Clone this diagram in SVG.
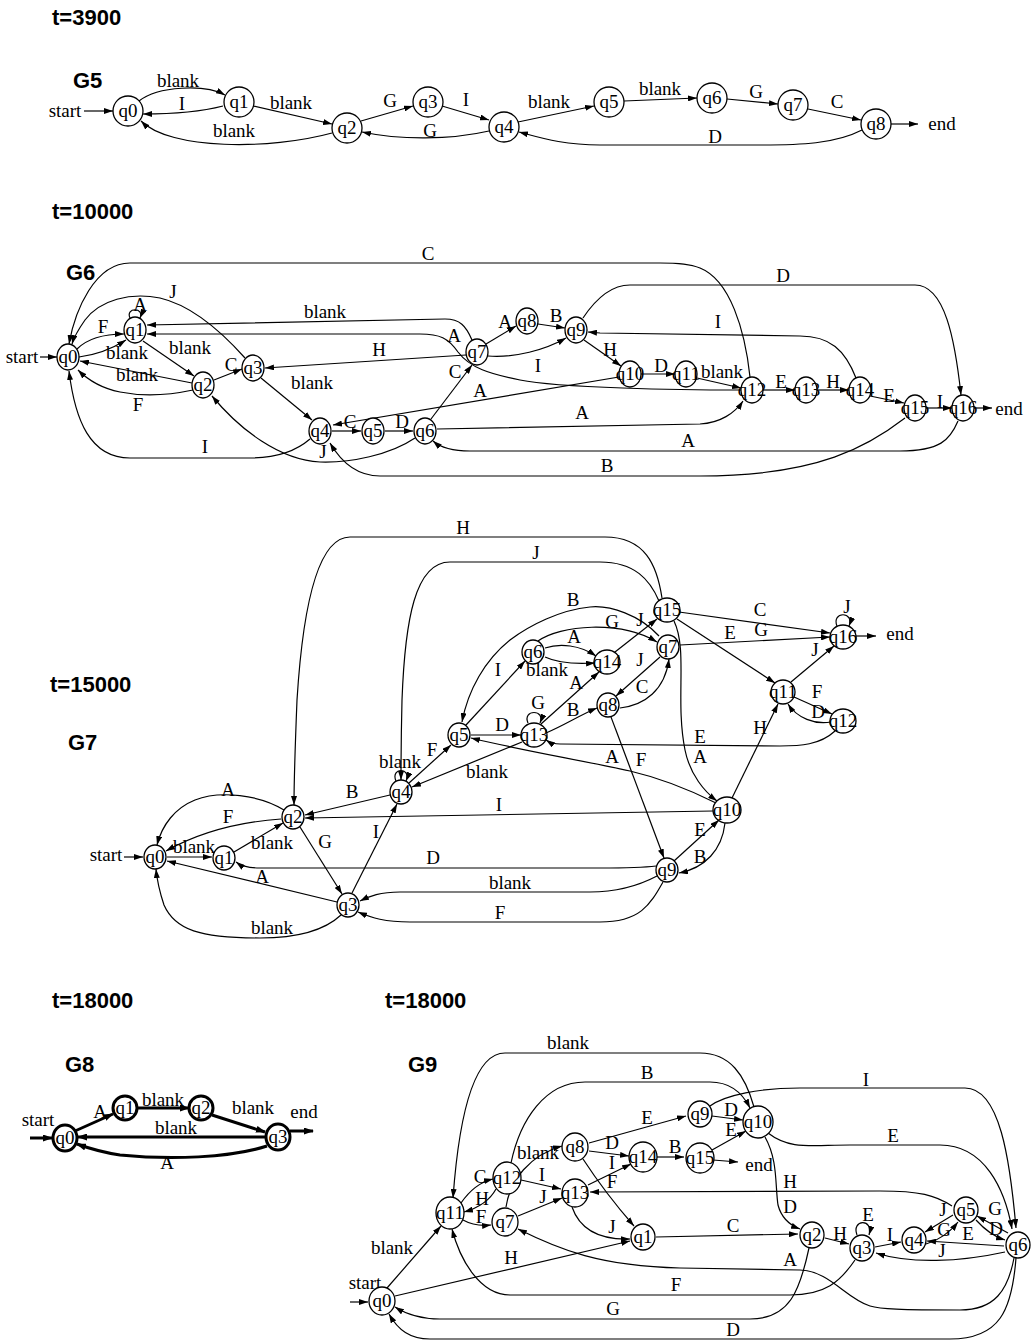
<svg xmlns="http://www.w3.org/2000/svg" width="1036" height="1341" viewBox="0 0 1036 1341">
<style>
.t{font-family:"Liberation Sans",Arial,sans-serif;font-weight:bold;font-size:22px}
.n{fill:#fff;stroke:#000;stroke-width:1.3}
.n3{fill:#fff;stroke:#000;stroke-width:3}
.nt{font-family:"Liberation Serif","Times New Roman",serif;font-size:19px;text-anchor:middle}
.l{font-family:"Liberation Serif","Times New Roman",serif;font-size:19px;text-anchor:middle}
.e{fill:none;stroke:#000;stroke-width:1.2;marker-end:url(#a)}
.e3{fill:none;stroke:#000;stroke-width:3;marker-end:url(#a3)}
</style>
<defs>
<marker id="a" markerWidth="9" markerHeight="6" refX="9" refY="3" orient="auto" markerUnits="userSpaceOnUse"><path d="M0,0L9,3L0,6z"/></marker>
<marker id="a3" markerWidth="10" markerHeight="7" refX="9" refY="3.5" orient="auto" markerUnits="userSpaceOnUse"><path d="M0,0L10,3.5L0,7z"/></marker>
</defs>
<rect width="1036" height="1341" fill="#fff"/>

<text class="t" x="52" y="25">t=3900</text>
<text class="t" x="73" y="88">G5</text>
<text class="t" x="52" y="219">t=10000</text>
<text class="t" x="66" y="280">G6</text>
<text class="t" x="50" y="692">t=15000</text>
<text class="t" x="68" y="750">G7</text>
<text class="t" x="52" y="1008">t=18000</text>
<text class="t" x="65" y="1072">G8</text>
<text class="t" x="385" y="1008">t=18000</text>
<text class="t" x="408" y="1072">G9</text>

<!-- ================= G5 connectors ================= -->
<g id="g5-edges">
<path class="e" d="M84,111L113,111"/>
<path class="e" d="M139,101C158,86 205,84 225,95"/>
<path class="e" d="M223,106C200,112 170,114 143,114"/>
<path class="e" d="M253,106L332,124"/>
<path class="e" d="M332,133C270,150 170,150 141,121"/>
<path class="e" d="M361,121L413,106"/>
<path class="e" d="M442,106L489,120"/>
<path class="e" d="M489,131C450,140 400,140 362,132"/>
<path class="e" d="M518,122L594,106"/>
<path class="e" d="M624,101L697,98"/>
<path class="e" d="M727,99L778,104"/>
<path class="e" d="M808,109L861,120"/>
<path class="e" d="M862,130C835,144 800,145 760,145L600,145C565,145 545,139 519,132"/>
<path class="e" d="M891,124L918,124"/>
<g>
<text class="l" x="65" y="117">start</text>
<text class="l" x="178" y="87">blank</text>
<text class="l" x="182" y="110">I</text>
<text class="l" x="291" y="109">blank</text>
<text class="l" x="234" y="137">blank</text>
<text class="l" x="390" y="107">G</text>
<text class="l" x="466" y="106">I</text>
<text class="l" x="430" y="137">G</text>
<text class="l" x="549" y="108">blank</text>
<text class="l" x="660" y="95">blank</text>
<text class="l" x="756" y="98">G</text>
<text class="l" x="837" y="108">C</text>
<text class="l" x="715" y="143">D</text>
<text class="l" x="942" y="130">end</text>
</g>
</g>
<g id="g5-q0"><circle class="n" cx="128" cy="111" r="15"/><text class="nt" x="128" y="117">q0</text></g>
<g id="g5-q1"><circle class="n" cx="239" cy="102" r="15"/><text class="nt" x="239" y="108">q1</text></g>
<g id="g5-q2"><circle class="n" cx="347" cy="128" r="15"/><text class="nt" x="347" y="134">q2</text></g>
<g id="g5-q3"><circle class="n" cx="428" cy="102" r="15"/><text class="nt" x="428" y="108">q3</text></g>
<g id="g5-q4"><circle class="n" cx="504" cy="127" r="15"/><text class="nt" x="504" y="133">q4</text></g>
<g id="g5-q5"><circle class="n" cx="609" cy="102" r="15"/><text class="nt" x="609" y="108">q5</text></g>
<g id="g5-q6"><circle class="n" cx="712" cy="98" r="15"/><text class="nt" x="712" y="104">q6</text></g>
<g id="g5-q7"><circle class="n" cx="793" cy="105" r="15"/><text class="nt" x="793" y="111">q7</text></g>
<g id="g5-q8"><circle class="n" cx="876" cy="124" r="15"/><text class="nt" x="876" y="130">q8</text></g>

<!-- ================= G6 connectors ================= -->
<g id="g6-edges">
<path class="e" d="M40,357L57,357"/>
<path class="e" d="M750,377C745,330 730,280 700,268C690,264 680,263 660,263L130,263C95,263 75,310 69,344"/>
<path class="e" d="M583,318C595,300 610,285 630,285L915,285C945,285 955,340 961,395"/>
<path class="e" d="M245,358C220,330 190,305 160,298C130,292 100,300 85,320C78,330 74,337 72,344"/>
<path class="e" d="M130,318C125,307 145,307 140,318"/>
<path class="e" d="M77,349C88,338 105,334 124,334"/>
<path class="e" d="M79,357C95,355 110,350 126,340"/>
<path class="e" d="M143,341L194,376"/>
<path class="e" d="M192,383L80,361"/>
<path class="e" d="M193,390C165,396 140,396 120,392C100,388 88,380 78,370"/>
<path class="e" d="M214,380L242,369"/>
<path class="e" d="M466,355L265,368"/>
<path class="e" d="M261,378L312,420"/>
<path class="e" d="M472,340C466,326 460,319 445,319L147,325"/>
<path class="e" d="M741,390C680,390 560,388 520,380C490,374 470,368 458,352C448,338 440,334 420,334L147,334"/>
<path class="e" d="M486,344L516,326"/>
<path class="e" d="M538,324L565,328"/>
<path class="e" d="M488,356C515,358 545,350 566,338"/>
<path class="e" d="M584,340L621,366"/>
<path class="e" d="M641,374L675,374"/>
<path class="e" d="M697,378L741,388"/>
<path class="e" d="M763,390L795,390"/>
<path class="e" d="M817,390L849,390"/>
<path class="e" d="M870,396L904,403"/>
<path class="e" d="M926,408L952,408"/>
<path class="e" d="M974,408L992,408"/>
<path class="e" d="M856,378C845,350 830,336 800,336L600,333L588,332"/>
<path class="e" d="M619,377L333,425"/>
<path class="e" d="M431,419L472,365"/>
<path class="e" d="M437,429L700,424C720,423 735,413 743,401"/>
<path class="e" d="M958,421C950,440 940,451 900,451L470,451C450,451 440,447 433,441"/>
<path class="e" d="M905,418C870,445 820,476 700,476L380,476C355,476 340,460 330,443"/>
<path class="e" d="M332,431L361,431"/>
<path class="e" d="M385,431L413,431"/>
<path class="e" d="M415,438C390,455 350,463 320,462C280,460 240,430 212,396"/>
<path class="e" d="M310,439C295,452 275,458 250,458L130,458C90,458 75,420 69,371"/>
<g>
<text class="l" x="22" y="363">start</text>
<text class="l" x="428" y="260">C</text>
<text class="l" x="783" y="282">D</text>
<text class="l" x="173" y="298">J</text>
<text class="l" x="140" y="311">A</text>
<text class="l" x="103" y="333">F</text>
<text class="l" x="127" y="359">blank</text>
<text class="l" x="190" y="354">blank</text>
<text class="l" x="137" y="381">blank</text>
<text class="l" x="138" y="411">F</text>
<text class="l" x="231" y="371">C</text>
<text class="l" x="379" y="356">H</text>
<text class="l" x="312" y="389">blank</text>
<text class="l" x="325" y="318">blank</text>
<text class="l" x="454" y="342">A</text>
<text class="l" x="505" y="328">A</text>
<text class="l" x="556" y="322">B</text>
<text class="l" x="538" y="372">I</text>
<text class="l" x="610" y="356">H</text>
<text class="l" x="661" y="372">D</text>
<text class="l" x="722" y="378">blank</text>
<text class="l" x="781" y="388">E</text>
<text class="l" x="833" y="388">H</text>
<text class="l" x="889" y="402">E</text>
<text class="l" x="940" y="408">I</text>
<text class="l" x="1009" y="415">end</text>
<text class="l" x="718" y="328">I</text>
<text class="l" x="480" y="397">A</text>
<text class="l" x="455" y="378">C</text>
<text class="l" x="582" y="419">A</text>
<text class="l" x="688" y="447">A</text>
<text class="l" x="607" y="472">B</text>
<text class="l" x="350" y="428">C</text>
<text class="l" x="402" y="428">D</text>
<text class="l" x="323" y="458">J</text>
<text class="l" x="205" y="453">I</text>
</g>
</g>
<g id="g6-q0"><ellipse class="n" cx="68" cy="357" rx="11" ry="13"/><text class="nt" x="68" y="363">q0</text></g>
<g id="g6-q1"><ellipse class="n" cx="135" cy="330" rx="11" ry="13"/><text class="nt" x="135" y="336">q1</text></g>
<g id="g6-q2"><ellipse class="n" cx="203" cy="385" rx="11" ry="13"/><text class="nt" x="203" y="391">q2</text></g>
<g id="g6-q3"><ellipse class="n" cx="253" cy="368" rx="11" ry="13"/><text class="nt" x="253" y="374">q3</text></g>
<g id="g6-q4"><ellipse class="n" cx="320" cy="431" rx="11" ry="13"/><text class="nt" x="320" y="437">q4</text></g>
<g id="g6-q5"><ellipse class="n" cx="373" cy="431" rx="11" ry="13"/><text class="nt" x="373" y="437">q5</text></g>
<g id="g6-q6"><ellipse class="n" cx="425" cy="431" rx="11" ry="13"/><text class="nt" x="425" y="437">q6</text></g>
<g id="g6-q7"><ellipse class="n" cx="477" cy="352" rx="11" ry="13"/><text class="nt" x="477" y="358">q7</text></g>
<g id="g6-q8"><ellipse class="n" cx="527" cy="321" rx="11" ry="13"/><text class="nt" x="527" y="327">q8</text></g>
<g id="g6-q9"><ellipse class="n" cx="576" cy="330" rx="11" ry="13"/><text class="nt" x="576" y="336">q9</text></g>
<g id="g6-q10"><ellipse class="n" cx="630" cy="374" rx="11" ry="13"/><text class="nt" x="630" y="380">q10</text></g>
<g id="g6-q11"><ellipse class="n" cx="686" cy="374" rx="11" ry="13"/><text class="nt" x="686" y="380">q11</text></g>
<g id="g6-q12"><ellipse class="n" cx="752" cy="390" rx="11" ry="13"/><text class="nt" x="752" y="396">q12</text></g>
<g id="g6-q13"><ellipse class="n" cx="806" cy="390" rx="11" ry="13"/><text class="nt" x="806" y="396">q13</text></g>
<g id="g6-q14"><ellipse class="n" cx="860" cy="390" rx="11" ry="13"/><text class="nt" x="860" y="396">q14</text></g>
<g id="g6-q15"><ellipse class="n" cx="915" cy="408" rx="11" ry="13"/><text class="nt" x="915" y="414">q15</text></g>
<g id="g6-q16"><ellipse class="n" cx="963" cy="408" rx="11" ry="13"/><text class="nt" x="963" y="414">q16</text></g>

<!-- ================= G7 connectors ================= -->
<g id="g7-edges">
<path class="e" d="M124,857L143,857"/>
<path class="e" d="M167,857L212,857"/>
<path class="e" d="M234,852L283,823"/>
<path class="e" d="M284,810C260,795 220,790 195,800C175,808 162,825 157,845"/>
<path class="e" d="M281,819C240,822 200,832 166,851"/>
<path class="e" d="M300,827L342,894"/>
<path class="e" d="M337,902L167,861"/>
<path class="e" d="M341,915C325,930 300,938 260,938C200,938 175,930 164,905C159,890 157,880 156,869"/>
<path class="e" d="M352,893L397,804"/>
<path class="e" d="M390,795L305,815"/>
<path class="e" d="M396,781C390,767 412,767 406,781"/>
<path class="e" d="M409,783L451,745"/>
<path class="e" d="M522,742L412,787"/>
<path class="e" d="M471,735L521,735"/>
<path class="e" d="M466,725L525,661"/>
<path class="e" d="M659,636C640,615 610,605 590,607C560,610 530,625 510,640C485,660 468,690 462,722"/>
<path class="e" d="M545,648C560,643 580,645 596,656"/>
<path class="e" d="M545,657C560,664 580,664 595,663"/>
<path class="e" d="M538,641C560,625 620,620 657,642"/>
<path class="e" d="M528,723C522,709 546,709 540,723"/>
<path class="e" d="M541,724L599,672"/>
<path class="e" d="M546,733C565,725 580,715 597,708"/>
<path class="e" d="M615,652L657,619"/>
<path class="e" d="M660,657L616,696"/>
<path class="e" d="M620,708C645,705 665,690 669,659"/>
<path class="e" d="M611,717L664,858"/>
<path class="e" d="M716,803C690,790 660,778 630,771C580,760 520,750 471,738"/>
<path class="e" d="M835,731C820,745 800,746 780,746L560,744C552,744 549,742 546,740"/>
<path class="e" d="M662,598C657,565 645,537 605,537L350,537C315,537 302,620 297,700C295,750 294,780 294,805"/>
<path class="e" d="M659,601C650,580 635,562 600,562L450,562C415,562 405,620 402,700C401,740 401,760 401,780"/>
<path class="e" d="M679,612L830,633"/>
<path class="e" d="M680,645L830,637"/>
<path class="e" d="M677,619L775,683"/>
<path class="e" d="M674,621C688,650 675,700 685,750C690,775 705,792 717,801"/>
<path class="e" d="M732,798L778,704"/>
<path class="e" d="M791,682L834,646"/>
<path class="e" d="M837,626C831,611 855,611 849,626"/>
<path class="e" d="M856,636L876,636"/>
<path class="e" d="M794,697L832,714"/>
<path class="e" d="M831,722C815,725 797,718 788,704"/>
<path class="e" d="M713,811L305,818"/>
<path class="e" d="M674,861L719,820"/>
<path class="e" d="M725,823C722,850 705,868 679,873"/>
<path class="e" d="M656,866C640,868 620,868 600,868L260,868C248,868 240,865 236,862"/>
<path class="e" d="M657,876C640,885 620,892 590,892L400,892C380,892 370,896 360,901"/>
<path class="e" d="M663,882C650,905 640,922 600,922L410,922C385,922 372,918 358,912"/>
<g>
<text class="l" x="106" y="861">start</text>
<text class="l" x="194" y="853">blank</text>
<text class="l" x="272" y="849">blank</text>
<text class="l" x="228" y="796">A</text>
<text class="l" x="228" y="823">F</text>
<text class="l" x="325" y="848">G</text>
<text class="l" x="262" y="883">A</text>
<text class="l" x="272" y="934">blank</text>
<text class="l" x="376" y="838">I</text>
<text class="l" x="352" y="798">B</text>
<text class="l" x="400" y="768">blank</text>
<text class="l" x="432" y="756">F</text>
<text class="l" x="487" y="778">blank</text>
<text class="l" x="502" y="731">D</text>
<text class="l" x="498" y="676">I</text>
<text class="l" x="573" y="606">B</text>
<text class="l" x="574" y="643">A</text>
<text class="l" x="547" y="676">blank</text>
<text class="l" x="612" y="628">G</text>
<text class="l" x="538" y="709">G</text>
<text class="l" x="576" y="689">A</text>
<text class="l" x="573" y="716">B</text>
<text class="l" x="640" y="626">J</text>
<text class="l" x="640" y="666">J</text>
<text class="l" x="642" y="693">C</text>
<text class="l" x="641" y="766">F</text>
<text class="l" x="612" y="763">A</text>
<text class="l" x="700" y="743">E</text>
<text class="l" x="463" y="534">H</text>
<text class="l" x="536" y="559">J</text>
<text class="l" x="760" y="616">C</text>
<text class="l" x="761" y="636">G</text>
<text class="l" x="730" y="639">E</text>
<text class="l" x="700" y="763">A</text>
<text class="l" x="760" y="734">H</text>
<text class="l" x="815" y="656">J</text>
<text class="l" x="847" y="613">J</text>
<text class="l" x="900" y="640">end</text>
<text class="l" x="817" y="698">F</text>
<text class="l" x="818" y="718">D</text>
<text class="l" x="499" y="811">I</text>
<text class="l" x="700" y="836">E</text>
<text class="l" x="700" y="863">B</text>
<text class="l" x="433" y="864">D</text>
<text class="l" x="510" y="889">blank</text>
<text class="l" x="500" y="919">F</text>
</g>
</g>
<g id="g7-q0"><ellipse class="n" cx="155" cy="857" rx="11" ry="12"/><text class="nt" x="155" y="863">q0</text></g>
<g id="g7-q1"><ellipse class="n" cx="224" cy="858" rx="11" ry="12"/><text class="nt" x="224" y="864">q1</text></g>
<g id="g7-q2"><ellipse class="n" cx="293" cy="817" rx="11" ry="12"/><text class="nt" x="293" y="823">q2</text></g>
<g id="g7-q3"><ellipse class="n" cx="348" cy="905" rx="11" ry="12"/><text class="nt" x="348" y="911">q3</text></g>
<g id="g7-q4"><ellipse class="n" cx="401" cy="792" rx="11" ry="12"/><text class="nt" x="401" y="798">q4</text></g>
<g id="g7-q5"><ellipse class="n" cx="459" cy="735" rx="11" ry="12"/><text class="nt" x="459" y="741">q5</text></g>
<g id="g7-q6"><ellipse class="n" cx="533" cy="652" rx="11" ry="12"/><text class="nt" x="533" y="658">q6</text></g>
<g id="g7-q7"><ellipse class="n" cx="668" cy="647" rx="11" ry="12"/><text class="nt" x="668" y="653">q7</text></g>
<g id="g7-q8"><ellipse class="n" cx="608" cy="705" rx="11" ry="12"/><text class="nt" x="608" y="711">q8</text></g>
<g id="g7-q9"><ellipse class="n" cx="667" cy="870" rx="11" ry="12"/><text class="nt" x="667" y="876">q9</text></g>
<g id="g7-q10"><ellipse class="n" cx="727" cy="810" rx="14" ry="13"/><text class="nt" x="727" y="816">q10</text></g>
<g id="g7-q11"><ellipse class="n" cx="783" cy="692" rx="12" ry="12"/><text class="nt" x="783" y="698">q11</text></g>
<g id="g7-q12"><ellipse class="n" cx="843" cy="721" rx="13" ry="12"/><text class="nt" x="843" y="727">q12</text></g>
<g id="g7-q13"><ellipse class="n" cx="534" cy="735" rx="13" ry="12"/><text class="nt" x="534" y="741">q13</text></g>
<g id="g7-q14"><ellipse class="n" cx="607" cy="662" rx="13" ry="12"/><text class="nt" x="607" y="668">q14</text></g>
<g id="g7-q15"><ellipse class="n" cx="667" cy="610" rx="13" ry="12"/><text class="nt" x="667" y="616">q15</text></g>
<g id="g7-q16"><ellipse class="n" cx="843" cy="637" rx="13" ry="12"/><text class="nt" x="843" y="643">q16</text></g>

<!-- ================= G8 connectors ================= -->
<g id="g8-edges">
<path class="e3" d="M30,1138L52,1138"/>
<path class="e3" d="M75,1131L113,1114"/>
<path class="e3" d="M137,1108L189,1108"/>
<path class="e3" d="M212,1115L265,1132"/>
<path class="e3" d="M266,1137L78,1137"/>
<path class="e3" d="M267,1146C230,1158 170,1160 120,1155C100,1152 88,1148 77,1144"/>
<path class="e3" d="M290,1131L313,1131"/>
<g>
<text class="l" x="38" y="1126">start</text>
<text class="l" x="100" y="1118">A</text>
<text class="l" x="163" y="1106">blank</text>
<text class="l" x="253" y="1114">blank</text>
<text class="l" x="176" y="1134">blank</text>
<text class="l" x="167" y="1169">A</text>
<text class="l" x="304" y="1118">end</text>
</g>
</g>
<g id="g8-q0"><ellipse class="n3" cx="65" cy="1138" rx="12" ry="13"/><text class="nt" x="65" y="1144">q0</text></g>
<g id="g8-q1"><ellipse class="n3" cx="125" cy="1108" rx="12" ry="12"/><text class="nt" x="125" y="1114">q1</text></g>
<g id="g8-q2"><ellipse class="n3" cx="201" cy="1108" rx="12" ry="12"/><text class="nt" x="201" y="1114">q2</text></g>
<g id="g8-q3"><ellipse class="n3" cx="278" cy="1137" rx="12" ry="13"/><text class="nt" x="278" y="1143">q3</text></g>

<!-- ================= G9 connectors ================= -->
<g id="g9-edges">
<path class="e" d="M350,1302L368,1302"/>
<path class="e" d="M387,1288L441,1226"/>
<path class="e" d="M395,1296L630,1241"/>
<path class="e" d="M809,1248C800,1290 790,1319 750,1319L440,1319C420,1319 406,1314 395,1307"/>
<path class="e" d="M1016,1258C1012,1310 1000,1339 950,1339L430,1339C410,1339 398,1330 389,1314"/>
<path class="e" d="M855,1260C840,1282 825,1295 790,1295L510,1295C480,1295 460,1260 452,1229"/>
<path class="e" d="M1014,1258C1008,1290 995,1310 960,1310C900,1310 880,1309 870,1306C845,1298 830,1271 800,1270L680,1268C600,1266 560,1250 518,1229"/>
<path class="e" d="M461,1203C470,1190 480,1182 493,1179"/>
<path class="e" d="M496,1189C490,1200 478,1208 464,1212"/>
<path class="e" d="M463,1220C472,1225 482,1226 491,1225"/>
<path class="e" d="M521,1180L561,1189"/>
<path class="e" d="M518,1216L562,1198"/>
<path class="e" d="M506,1207C510,1180 530,1155 562,1146"/>
<path class="e" d="M511,1163C520,1120 545,1082 585,1082L710,1082C730,1082 742,1092 750,1108"/>
<path class="e" d="M754,1107C745,1075 730,1053 700,1053L505,1053C470,1053 458,1130 453,1198"/>
<path class="e" d="M589,1143L686,1116"/>
<path class="e" d="M589,1151L629,1156"/>
<path class="e" d="M588,1185L631,1164"/>
<path class="e" d="M952,1206C935,1195 920,1191 880,1191L590,1192"/>
<path class="e" d="M583,1159C600,1185 620,1210 634,1226"/>
<path class="e" d="M572,1207C580,1230 600,1240 630,1239"/>
<path class="e" d="M656,1237L798,1234"/>
<path class="e" d="M712,1116L743,1120"/>
<path class="e" d="M712,1150L746,1131"/>
<path class="e" d="M657,1157L684,1157"/>
<path class="e" d="M713,1160L738,1162"/>
<path class="e" d="M710,1106C725,1095 760,1088 800,1088L965,1088C1000,1088 1010,1160 1016,1228"/>
<path class="e" d="M768,1133C790,1150 810,1145 850,1145L940,1145C985,1145 1005,1190 1012,1229"/>
<path class="e" d="M765,1137C778,1160 775,1185 778,1205C782,1220 792,1226 800,1229"/>
<path class="e" d="M825,1238L849,1244"/>
<path class="e" d="M857,1235C851,1219 874,1218 869,1235"/>
<path class="e" d="M875,1247L901,1242"/>
<path class="e" d="M953,1215L925,1232"/>
<path class="e" d="M926,1244C940,1240 950,1232 958,1222"/>
<path class="e" d="M1008,1233L977,1216"/>
<path class="e" d="M976,1220C985,1230 995,1237 1005,1240"/>
<path class="e" d="M1004,1246L927,1241"/>
<path class="e" d="M1005,1252C960,1262 910,1264 876,1253"/>
<g>
<text class="l" x="365" y="1289">start</text>
<text class="l" x="392" y="1254">blank</text>
<text class="l" x="511" y="1264">H</text>
<text class="l" x="613" y="1315">G</text>
<text class="l" x="733" y="1336">D</text>
<text class="l" x="676" y="1291">F</text>
<text class="l" x="790" y="1266">A</text>
<text class="l" x="480" y="1183">C</text>
<text class="l" x="482" y="1205">H</text>
<text class="l" x="481" y="1223">F</text>
<text class="l" x="542" y="1181">I</text>
<text class="l" x="543" y="1203">J</text>
<text class="l" x="538" y="1159">blank</text>
<text class="l" x="647" y="1079">B</text>
<text class="l" x="568" y="1049">blank</text>
<text class="l" x="647" y="1124">E</text>
<text class="l" x="612" y="1149">D</text>
<text class="l" x="612" y="1169">I</text>
<text class="l" x="612" y="1188">F</text>
<text class="l" x="790" y="1188">H</text>
<text class="l" x="612" y="1233">J</text>
<text class="l" x="733" y="1232">C</text>
<text class="l" x="731" y="1116">D</text>
<text class="l" x="731" y="1136">E</text>
<text class="l" x="675" y="1153">B</text>
<text class="l" x="759" y="1171">end</text>
<text class="l" x="866" y="1086">I</text>
<text class="l" x="893" y="1142">E</text>
<text class="l" x="790" y="1213">D</text>
<text class="l" x="840" y="1240">H</text>
<text class="l" x="868" y="1221">E</text>
<text class="l" x="890" y="1241">I</text>
<text class="l" x="943" y="1216">J</text>
<text class="l" x="944" y="1236">G</text>
<text class="l" x="995" y="1215">G</text>
<text class="l" x="996" y="1235">D</text>
<text class="l" x="968" y="1240">E</text>
<text class="l" x="942" y="1257">J</text>
</g>
</g>
<g id="g9-q0"><ellipse class="n" cx="382" cy="1301" rx="13" ry="14"/><text class="nt" x="382" y="1307">q0</text></g>
<g id="g9-q1"><ellipse class="n" cx="643" cy="1237" rx="12" ry="13"/><text class="nt" x="643" y="1243">q1</text></g>
<g id="g9-q2"><ellipse class="n" cx="812" cy="1235" rx="12" ry="13"/><text class="nt" x="812" y="1241">q2</text></g>
<g id="g9-q3"><ellipse class="n" cx="862" cy="1248" rx="12" ry="13"/><text class="nt" x="862" y="1254">q3</text></g>
<g id="g9-q4"><ellipse class="n" cx="914" cy="1240" rx="12" ry="13"/><text class="nt" x="914" y="1246">q4</text></g>
<g id="g9-q5"><ellipse class="n" cx="966" cy="1210" rx="12" ry="13"/><text class="nt" x="966" y="1216">q5</text></g>
<g id="g9-q6"><ellipse class="n" cx="1018" cy="1245" rx="12" ry="13"/><text class="nt" x="1018" y="1251">q6</text></g>
<g id="g9-q7"><ellipse class="n" cx="505" cy="1222" rx="13" ry="14"/><text class="nt" x="505" y="1228">q7</text></g>
<g id="g9-q8"><ellipse class="n" cx="575" cy="1147" rx="13" ry="14"/><text class="nt" x="575" y="1153">q8</text></g>
<g id="g9-q9"><ellipse class="n" cx="700" cy="1114" rx="12" ry="13"/><text class="nt" x="700" y="1120">q9</text></g>
<g id="g9-q10"><ellipse class="n" cx="758" cy="1122" rx="15" ry="16"/><text class="nt" x="758" y="1128">q10</text></g>
<g id="g9-q11"><ellipse class="n" cx="450" cy="1213" rx="14" ry="16"/><text class="nt" x="450" y="1219">q11</text></g>
<g id="g9-q12"><ellipse class="n" cx="507" cy="1178" rx="14" ry="16"/><text class="nt" x="507" y="1184">q12</text></g>
<g id="g9-q13"><ellipse class="n" cx="575" cy="1193" rx="13" ry="14"/><text class="nt" x="575" y="1199">q13</text></g>
<g id="g9-q14"><ellipse class="n" cx="643" cy="1157" rx="14" ry="15"/><text class="nt" x="643" y="1163">q14</text></g>
<g id="g9-q15"><ellipse class="n" cx="700" cy="1158" rx="14" ry="15"/><text class="nt" x="700" y="1164">q15</text></g>
</svg>
